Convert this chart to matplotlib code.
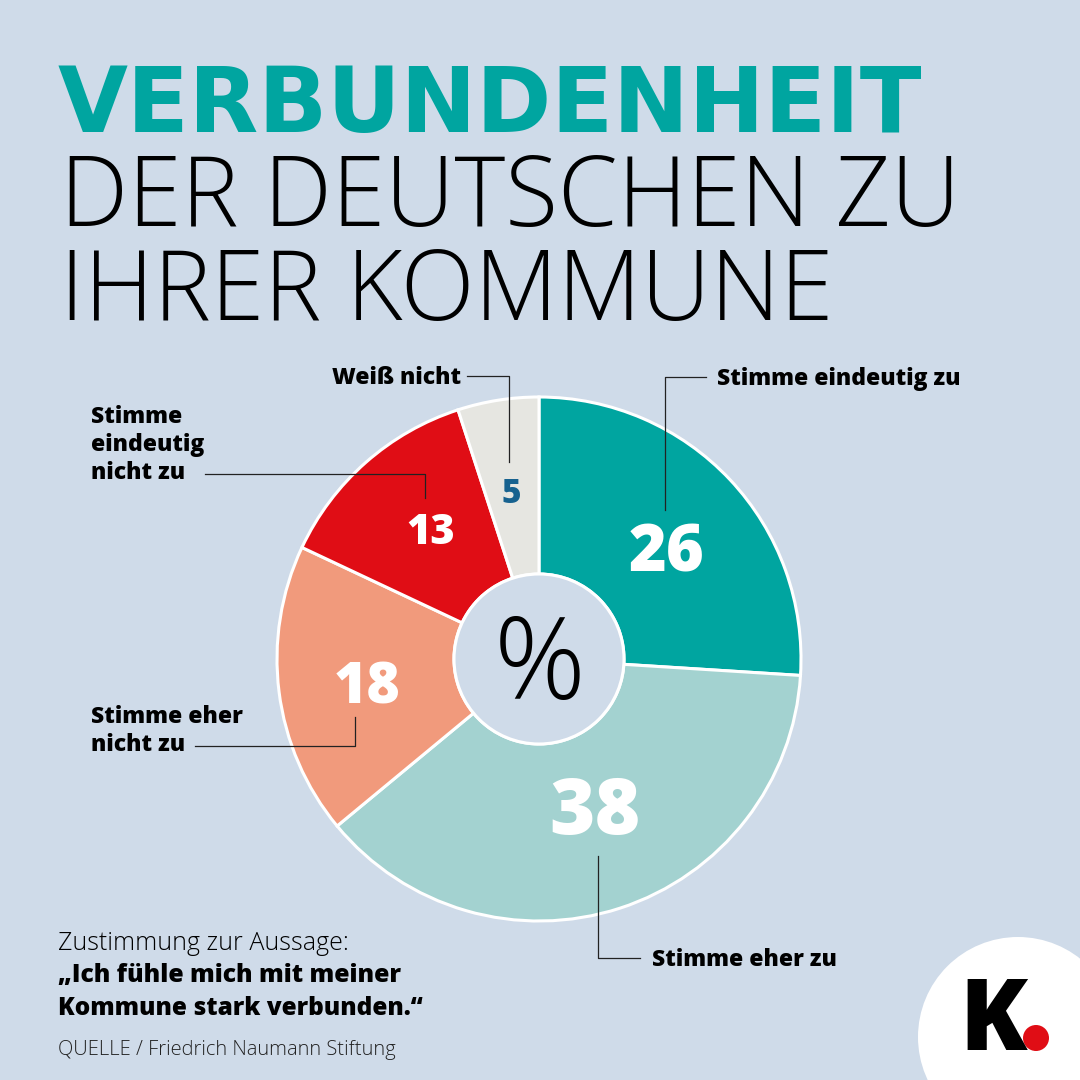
import matplotlib
matplotlib.use('Agg')
import matplotlib.pyplot as plt
from matplotlib.patches import Circle

labels = ['Stimme eindeutig zu', 'Stimme eher zu', 'Stimme eher\nnicht zu',
          'Stimme\neindeutig\nnicht zu', 'Weiß nicht']
values = [26, 38, 18, 13, 5]
colors = ['#00a5a0', '#a3d2d0', '#f19a7c', '#e00d15', '#e6e6e1']
value_colors = ['white', 'white', 'white', 'white', '#17628f']

BG = '#cfdbe9'
HEAVY = 'Open Sans'

fig = plt.figure(figsize=(10.8, 10.8), dpi=100, facecolor=BG)
ax = fig.add_axes([0, 0, 1, 1])
ax.set_xlim(0, 1080)
ax.set_ylim(1080, 0)
ax.axis('off')

# pie sits in its own axes, positioned in pixels
cx, cy, r = 539, 659, 262
pie_ax = fig.add_axes([(cx - r) / 1080, 1 - (cy + r) / 1080, 2 * r / 1080, 2 * r / 1080])
pie_ax.pie(values, colors=colors, startangle=90, counterclock=False, radius=1,
           wedgeprops={'width': 1 - 85 / 262, 'edgecolor': 'white', 'linewidth': 2.2})
pie_ax.set_xlim(-1, 1)
pie_ax.set_ylim(-1, 1)
pie_ax.add_patch(Circle((0, 0), 85 / 262, facecolor=BG, edgecolor='white', lw=2.2))

txt = fig.add_axes([0, 0, 1, 1])
txt.set_xlim(0, 1080)
txt.set_ylim(1080, 0)
txt.axis('off')

# title
txt.text(58, 132, 'VERBUNDENHEIT', fontsize=65.2, fontweight='bold', family='DejaVu Sans',
         color='#00a5a0', va='baseline')
txt.text(60, 226, 'DER DEUTSCHEN ZU', fontsize=69.5, fontweight=300, family=HEAVY,
         color='black', va='baseline')
txt.text(60, 320, 'IHRER KOMMUNE', fontsize=69.5, fontweight=300, family=HEAVY,
         color='black', va='baseline')

# values on the slices
val_pos = [(667, 554), (595, 814), (367, 689), (431, 533), (511, 494)]
val_size = [46.5, 56, 41, 30, 24]
for v, p, s, c in zip(values, val_pos, val_size, value_colors):
    txt.text(p[0], p[1], str(v), fontsize=s, fontweight=800, family=HEAVY, color=c,
             ha='center', va='center')

txt.text(540, 670, '%', fontsize=82, fontweight=300, family=HEAVY, color='black',
         ha='center', va='center')

# leader lines
leaders = [
    ([706, 665, 665], [377, 377, 510]),
    ([640, 598, 598], [958, 958, 856]),
    ([195, 355, 355], [746, 746, 717]),
    ([205, 425, 425], [474, 474, 498]),
    ([467, 509, 509], [376, 376, 462]),
]
for xs, ys in leaders:
    txt.plot(xs, ys, color='#222222', lw=0.9)

# category labels
lab_pos = [(717, 379), (652, 960), (91, 731), (91, 445), (332, 378)]
for lab, p in zip(labels, lab_pos):
    txt.text(p[0], p[1], lab, fontsize=16.5, fontweight=800, family=HEAVY, color='black',
             ha='left', va='center', linespacing=1.22)

# footer
txt.text(58, 950, 'Zustimmung zur Aussage:', fontsize=18, fontweight=300, family=HEAVY,
         va='baseline')
txt.text(58, 982, '„Ich fühle mich mit meiner', fontsize=17.8, fontweight=800, family=HEAVY,
         va='baseline')
txt.text(58, 1015, 'Kommune stark verbunden.“', fontsize=17.6, fontweight=800, family=HEAVY,
         va='baseline')
txt.text(58, 1055, 'QUELLE / Friedrich Naumann Stiftung', fontsize=14.5, fontweight=300,
         family=HEAVY, color='#222222', va='baseline')

# logo
txt.add_patch(Circle((1018, 1037), 100, facecolor='white', edgecolor='none'))
txt.text(959, 1050, 'K', fontsize=71, fontweight=800, family=HEAVY,
         color='black', va='baseline')
txt.add_patch(Circle((1036, 1038), 13, facecolor='#e00d15', edgecolor='none'))

fig.savefig('out.png', dpi=100, facecolor=BG)
